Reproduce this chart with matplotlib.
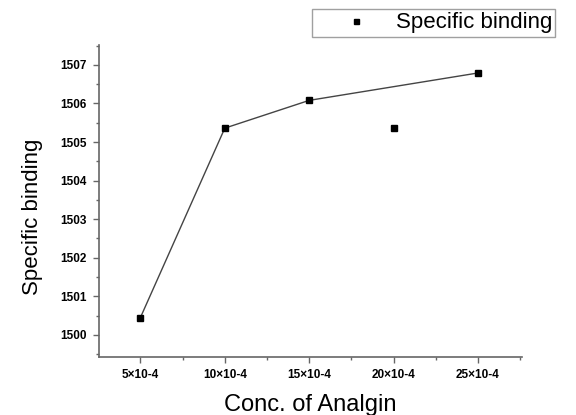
import numpy as np
import matplotlib.pyplot as plt
from matplotlib.ticker import MultipleLocator, FixedLocator

# data
conc = [5, 10, 15, 20, 25]
binding = [1500.45, 1505.36, 1506.08, 1505.36, 1506.79]
line_idx = [0, 1, 2, 4]   # point at 20x10-4 is off the line
tick_labels = ['5×10-4', '10×10-4', '15×10-4', '20×10-4', '25×10-4']
y_ticks = [1500, 1501, 1502, 1503, 1504, 1505, 1506, 1507]

plt.rcParams['font.family'] = ['Liberation Sans', 'DejaVu Sans']

fig = plt.figure(figsize=(5.76, 4.15), dpi=100)
ax = fig.add_axes([0.172, 0.140, 0.734, 0.752])

ax.plot([conc[i] for i in line_idx], [binding[i] for i in line_idx],
        color='#444444', lw=1.0, zorder=2)
ax.plot(conc, binding, 's', color='black', ms=4, ls='none', zorder=3,
        label='Specific binding')

ax.set_xlim(2.55, 27.6)
ax.set_ylim(1499.43, 1507.52)
ax.set_xticks(conc)
ax.set_xticklabels(tick_labels, fontsize=8.5, fontweight='bold')
ax.xaxis.set_minor_locator(FixedLocator([2.5, 7.5, 12.5, 17.5, 22.5, 27.5]))
ax.set_yticks(y_ticks)
ax.set_yticklabels([str(v) for v in y_ticks], fontsize=8.5, fontweight='bold')
ax.yaxis.set_minor_locator(MultipleLocator(0.5))

ax.spines['top'].set_visible(False)
ax.spines['right'].set_visible(False)
for s in ['left', 'bottom']:
    ax.spines[s].set_color('#666666')
    ax.spines[s].set_linewidth(1.2)
ax.tick_params(which='major', length=4, width=1, color='#666666', pad=5)
ax.tick_params(which='minor', length=2.5, width=1, color='#666666')

ax.set_xlabel('Conc. of Analgin', fontsize=17, labelpad=9)
ax.set_ylabel('Specific binding', fontsize=16)
ax.yaxis.set_label_coords(-0.132, 0.449)

leg = fig.legend(loc='upper left', bbox_to_anchor=(0.542, 0.978), fontsize=16,
                 frameon=True, fancybox=False, edgecolor='#888888',
                 borderaxespad=0, handletextpad=0.0, borderpad=0.15,
                 handlelength=3.6, markerscale=0.9)
leg.get_frame().set_linewidth(1.0)

fig.savefig('out.png', dpi=100)
